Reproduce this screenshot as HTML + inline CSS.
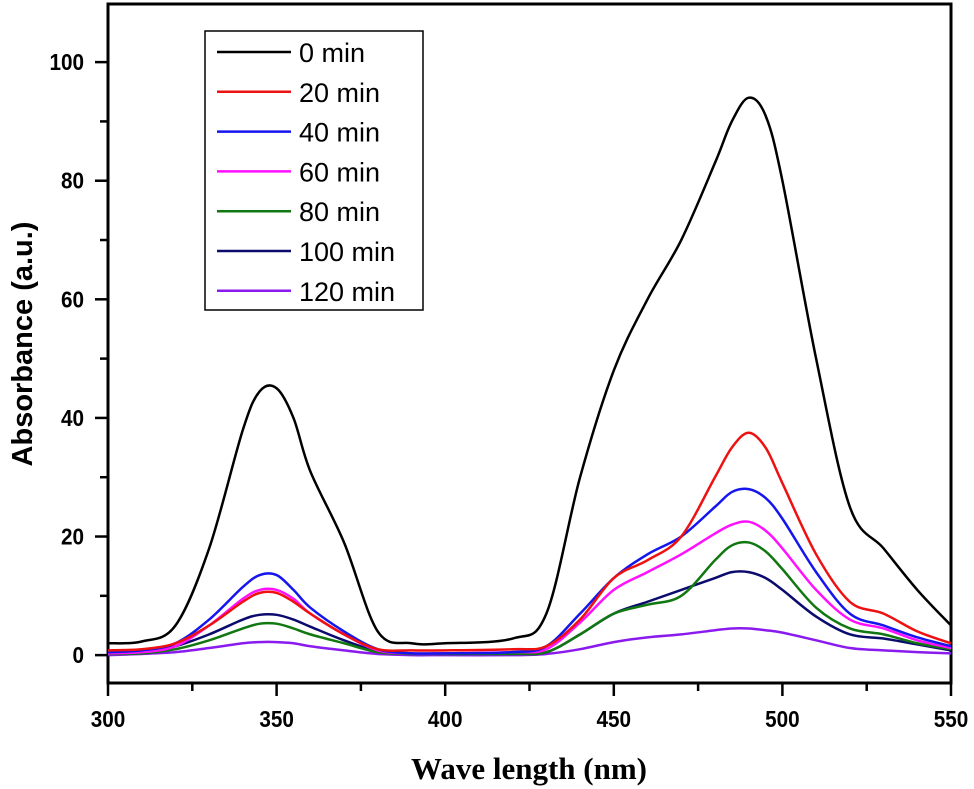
<!DOCTYPE html>
<html><head><meta charset="utf-8"><style>
html,body{margin:0;padding:0;background:#fff;}
svg{display:block;}
</style></head><body>
<svg id="chart" width="974" height="789" xmlns="http://www.w3.org/2000/svg">
<rect x="108" y="4" width="843" height="679" fill="none" stroke="#000" stroke-width="3"/>
<g id="axes"></g>
<g id="series"></g>
<text transform="translate(32,344) rotate(-90)" text-anchor="middle" font-family="Liberation Sans, sans-serif" font-weight="bold" font-size="29">Absorbance (a.u.)</text>
<text x="529" y="779" text-anchor="middle" font-family="Liberation Serif, serif" font-weight="bold" font-size="31">Wave length (nm)</text>
<g id="legend">
<rect x="205" y="31" width="218" height="279" fill="#fff" stroke="#000" stroke-width="1.5"/>
</g>
</svg>
<script>
const wavelengths=[300,310,320,330,340,345,350,355,360,370,380,390,400,420,430,440,450,460,470,480,485,490,495,500,510,520,530,540,550];
const labels=["0 min","20 min","40 min","60 min","80 min","100 min","120 min"];
const colors=["#000000","#ee1111","#1515ee","#ff11ff","#117711","#0b0b6e","#8a1aee"];
const s0=[2,2.3,5,18,38,44.5,45,40,31,19,4,2,2,2.8,7,30,48,60,70,83,90,94,91,80,50,25,18,11,5];
const s20=[0.8,1,2,5,9,10.5,10.5,9,7,3.5,1,0.8,0.8,1,1.5,6,13,16,20,30,35,37.5,35,29,17,9,7,4,2];
const s40=[0.5,0.8,2,6,11.5,13.5,13.5,11,8,4,1,0.3,0.3,0.5,1.5,7,13,17,20,25,27.5,28,26.5,23,14,7,5,3,1.5];
const s60=[0.3,0.5,1.5,5,9.5,11,11,9.5,7,3.5,0.8,0.3,0.3,0.5,1,5.5,11,14,17,20.5,22,22.5,21,18,11,6,4.5,2.5,1.2];
const s80=[0.2,0.3,1,2.5,4.5,5.3,5.3,4.5,3.5,2,0.5,0.2,0.2,0.2,0.5,3.5,7,8.5,10,16,18.5,19,17.5,14.5,8,4.5,3.5,2,1];
const s100=[0.3,0.5,1.5,3.5,6,6.8,6.8,6,4.8,2.5,0.7,0.3,0.3,0.3,0.5,3.5,7,9,11,13,14,14,13,11,6.5,3.5,2.8,1.8,0.8];
const s120=[0,0.2,0.5,1.2,2,2.2,2.2,2,1.5,0.8,0.2,0,0,0,0.2,1,2.2,3,3.5,4.2,4.5,4.5,4.2,3.8,2.5,1.2,0.8,0.5,0.3];
const series=[s0,s20,s40,s60,s80,s100,s120];
const xTicks=[300,350,400,450,500,550];
const yTicks=[0,20,40,60,80,100];
const NS="http://www.w3.org/2000/svg";
const X0=108,X1=951,Y0=683,Y1=4,xmin=300,xmax=550,ymin=-4.7,ymax=109.8;
const sx=v=>X0+(v-xmin)/(xmax-xmin)*(X1-X0);
const sy=v=>Y0-(v-ymin)/(ymax-ymin)*(Y0-Y1);
function mk(tag,attrs,parent){const e=document.createElementNS(NS,tag);for(const k in attrs)e.setAttribute(k,attrs[k]);parent.appendChild(e);return e;}
const axes=document.getElementById('axes');
for(let v=300;v<=550;v+=25){
  const major=xTicks.includes(v);
  const t=mk('line',{x1:sx(v),x2:sx(v),y1:Y0,y2:Y0+(major?13:8),stroke:'#000','stroke-width':2.5},axes);
  
  
}
xTicks.forEach(v=>{const t=mk('text',{x:sx(v),y:727,'text-anchor':'middle','font-family':'Liberation Sans, sans-serif','font-weight':'bold','font-size':23,'transform':'translate('+sx(v)+',0) scale(0.9,1) translate('+(-sx(v))+',0)'},axes);t.textContent=v;
  
  });
for(let v=0;v<=100;v+=10){
  const major=yTicks.includes(v);
  const t=mk('line',{x1:X0-(major?13:8),x2:X0,y1:sy(v),y2:sy(v),stroke:'#000','stroke-width':2.5},axes);
  
  
}
yTicks.forEach(v=>{const t=mk('text',{x:84,y:sy(v)+8,'text-anchor':'end','font-family':'Liberation Sans, sans-serif','font-weight':'bold','font-size':23,'transform':'translate(84,0) scale(0.9,1) translate(-84,0)'},axes);t.textContent=v;
  
  });
function pathFor(vals){
  const p=wavelengths.map((w,i)=>[sx(w),sy(vals[i])]);
  let d='M'+p[0][0]+','+p[0][1];
  for(let i=0;i<p.length-1;i++){
    const a=p[Math.max(0,i-1)],b=p[i],c=p[i+1],e=p[Math.min(p.length-1,i+2)];
    const k=1/6;
    d+=' C'+(b[0]+(c[0]-a[0])*k)+','+(b[1]+(c[1]-a[1])*k)+' '+(c[0]-(e[0]-b[0])*k)+','+(c[1]-(e[1]-b[1])*k)+' '+c[0]+','+c[1];
  }
  return d;
}
const sg=document.getElementById('series');
for(let i=series.length-1;i>=0;i--){
  const p=mk('path',{d:pathFor(series[i]),fill:'none',stroke:colors[i],'stroke-width':2.5},sg);
  
  
}
const lg=document.getElementById('legend');
labels.forEach((l,i)=>{
  const y=52+i*39.8;
  const ln=mk('line',{x1:217,x2:291,y1:y,y2:y,stroke:colors[i],'stroke-width':2.5},lg);
  
  
  const t=mk('text',{x:299,y:y+10,'font-family':'Liberation Sans, sans-serif','font-size':27},lg);
  t.textContent=l;
  
  
});
</script>
</body></html>
